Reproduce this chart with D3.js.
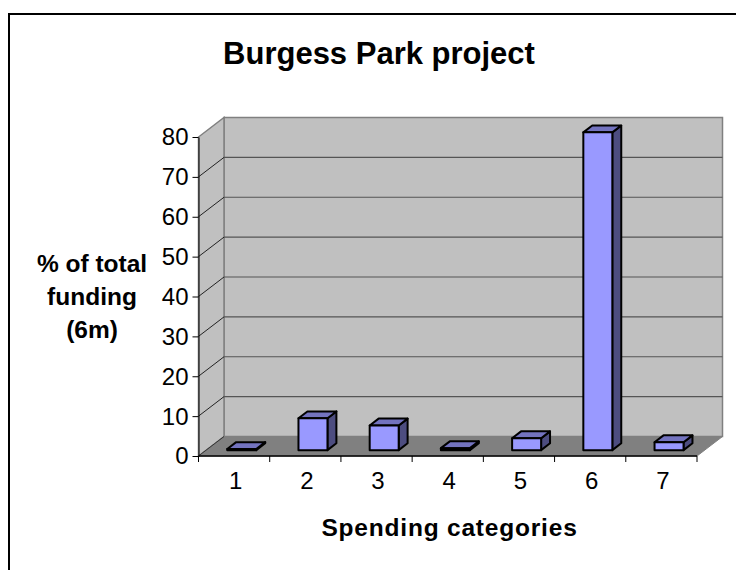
<!DOCTYPE html>
<html>
<head>
<meta charset="utf-8">
<script src="https://cdn.jsdelivr.net/npm/d3@7"></script>
<style>
  html, body { margin: 0; padding: 0; background: #fff; }
  svg { display: block; }
  text { font-family: "Liberation Sans", Arial, sans-serif; fill: #000; }
</style>
</head>
<body>
<div id="chart"></div>
<script>
// values
var categories = ["1", "2", "3", "4", "5", "6", "7"];
var spending = [0.3, 8, 6.2, 0.5, 3, 79.7, 2];
var yTicks = [0, 10, 20, 30, 40, 50, 60, 70, 80];
var yTitleLines = ["% of total", "funding", "(6m)"];

var svgWidth = 736;
var svgHeight = 570;

var svg = d3.select("#chart")
    .append("svg")
    .attr("width", svgWidth)
    .attr("height", svgHeight);

// scales for the front plane of the 3d box
var x = d3.scaleBand()
    .domain(categories)
    .range([198.5, 697]);

var y = d3.scaleLinear()
    .domain([0, 80])
    .range([456, 137]);

// depth goes up and to the right
var depthX = d3.scaleLinear().domain([0, 1]).range([0, 25.5]);
var depthY = d3.scaleLinear().domain([0, 1]).range([0, -19.5]);

var barFront = 0.3;
var barBack = 0.65;
var barWidth = 29;

function pt(px, val, z) {
    return [px + depthX(z), y(val) + depthY(z)];
}

function poly(points) {
    return points.map(p => p.join(",")).join(" ");
}

var left = x.range()[0];
var right = x.range()[1];

// frame (only top and left show in the crop)
svg.append("path")
    .attr("d", "M9,570V14H736")
    .attr("fill", "none")
    .attr("stroke", "#000")
    .attr("stroke-width", 2);

// walls and floor
var wallColor = "#c0c0c0";
var edgeColor = "#808080";

svg.append("polygon")
    .attr("points", poly([pt(left, 0, 1), pt(left, 80, 1), pt(right, 80, 1), pt(right, 0, 1)]))
    .attr("fill", wallColor)
    .attr("stroke", edgeColor)
    .attr("stroke-width", 1.5);

svg.append("polygon")
    .attr("points", poly([pt(left, 0, 0), pt(left, 80, 0), pt(left, 80, 1), pt(left, 0, 1)]))
    .attr("fill", wallColor)
    .attr("stroke", edgeColor)
    .attr("stroke-width", 1.5);

svg.append("polygon")
    .attr("points", poly([pt(left, 0, 0), pt(right, 0, 0), pt(right, 0, 1), pt(left, 0, 1)]))
    .attr("fill", edgeColor)
    .attr("stroke", edgeColor)
    .attr("stroke-width", 1);

// gridlines, side wall then back wall
var grid = svg.append("g");
yTicks.filter(d => d > 0 && d < 80).forEach(function(d) {
    var a = pt(left, d, 0), b = pt(left, d, 1), c = pt(right, d, 1);
    grid.append("polyline")
        .attr("points", poly([a, b]))
        .attr("fill", "none")
        .attr("stroke", "#222")
        .attr("stroke-width", 1);
    grid.append("polyline")
        .attr("points", poly([b, c]))
        .attr("fill", "none")
        .attr("stroke", "#555")
        .attr("stroke-width", 1.2);
});
grid.append("polyline")
    .attr("points", poly([pt(left, 0, 0), pt(left, 0, 1)]))
    .attr("stroke", "#333")
    .attr("stroke-width", 1);

// bars
var barData = categories.map((c, i) => ({ cat: c, value: spending[i] }));

var bars = svg.selectAll(".bar")
    .data(barData)
    .enter()
    .append("g")
    .attr("class", "bar")
    .attr("stroke", "#000")
    .attr("stroke-width", 2)
    .attr("stroke-linejoin", "round");

function barLeft(d) {
    return x(d.cat) + (x.bandwidth() - barWidth) / 2;
}

// right side
bars.append("polygon")
    .attr("fill", "#4d4d80")
    .attr("points", function(d) {
        var r = barLeft(d) + barWidth;
        return poly([pt(r, 0, barFront), pt(r, d.value, barFront), pt(r, d.value, barBack), pt(r, 0, barBack)]);
    });

// top
bars.append("polygon")
    .attr("fill", "#7373bf")
    .attr("points", function(d) {
        var l = barLeft(d), r = l + barWidth;
        return poly([pt(l, d.value, barFront), pt(r, d.value, barFront), pt(r, d.value, barBack), pt(l, d.value, barBack)]);
    });

// front
bars.append("polygon")
    .attr("fill", "#9999ff")
    .attr("points", function(d) {
        var l = barLeft(d), r = l + barWidth;
        return poly([pt(l, 0, barFront), pt(r, 0, barFront), pt(r, d.value, barFront), pt(l, d.value, barFront)]);
    });

// axes
var xAxis = d3.axisBottom(x).tickSize(6).tickSizeOuter(6).tickFormat("");
var yAxis = d3.axisLeft(y).tickValues(yTicks).tickSize(6).tickSizeOuter(0);

var xAxisGroup = svg.append("g")
    .attr("transform", `translate(0, ${y(0)})`)
    .call(xAxis);

// ticks sit on the band edges, not the band centres
xAxisGroup.selectAll(".tick").remove();
xAxisGroup.selectAll(".edge")
    .data(categories.concat("end"))
    .enter()
    .append("line")
    .attr("class", "edge")
    .attr("x1", (d, i) => i < categories.length ? x(d) : right)
    .attr("x2", (d, i) => i < categories.length ? x(d) : right)
    .attr("y1", 0)
    .attr("y2", 6)
    .attr("stroke", "#000");
xAxisGroup.select(".domain")
    .attr("d", `M${left},0H${right}`)
    .attr("stroke", "#000")
    .attr("stroke-width", 1.5);

xAxisGroup.selectAll(".cat")
    .data(categories)
    .enter()
    .append("text")
    .attr("class", "cat")
    .attr("x", d => x(d) + x.bandwidth() / 2 + 1.5)
    .attr("y", 33)
    .attr("text-anchor", "middle")
    .attr("font-size", 24)
    .text(d => d);

var yAxisGroup = svg.append("g")
    .attr("transform", `translate(${left}, 0)`)
    .call(yAxis);

yAxisGroup.selectAll("text")
    .attr("font-size", 24)
    .attr("x", -10)
    .attr("dy", "0.33em");
yAxisGroup.select(".domain").attr("stroke", "#000");
yAxisGroup.selectAll("line").attr("stroke", "#000");

// titles
svg.append("text")
    .attr("x", 379)
    .attr("y", 64)
    .attr("text-anchor", "middle")
    .attr("font-size", 31)
    .attr("font-weight", "bold")
    .text("Burgess Park project");

svg.append("text")
    .attr("x", 449.5)
    .attr("y", 535.5)
    .attr("text-anchor", "middle")
    .attr("font-size", 24.5)
    .attr("letter-spacing", 0.8)
    .attr("font-weight", "bold")
    .text("Spending categories");

svg.selectAll(".ytitle")
    .data(yTitleLines)
    .enter()
    .append("text")
    .attr("class", "ytitle")
    .attr("x", 92)
    .attr("y", (d, i) => 272 + i * 33)
    .attr("text-anchor", "middle")
    .attr("font-size", 24.5)
    .attr("font-weight", "bold")
    .text(d => d);
</script>
</body>
</html>
